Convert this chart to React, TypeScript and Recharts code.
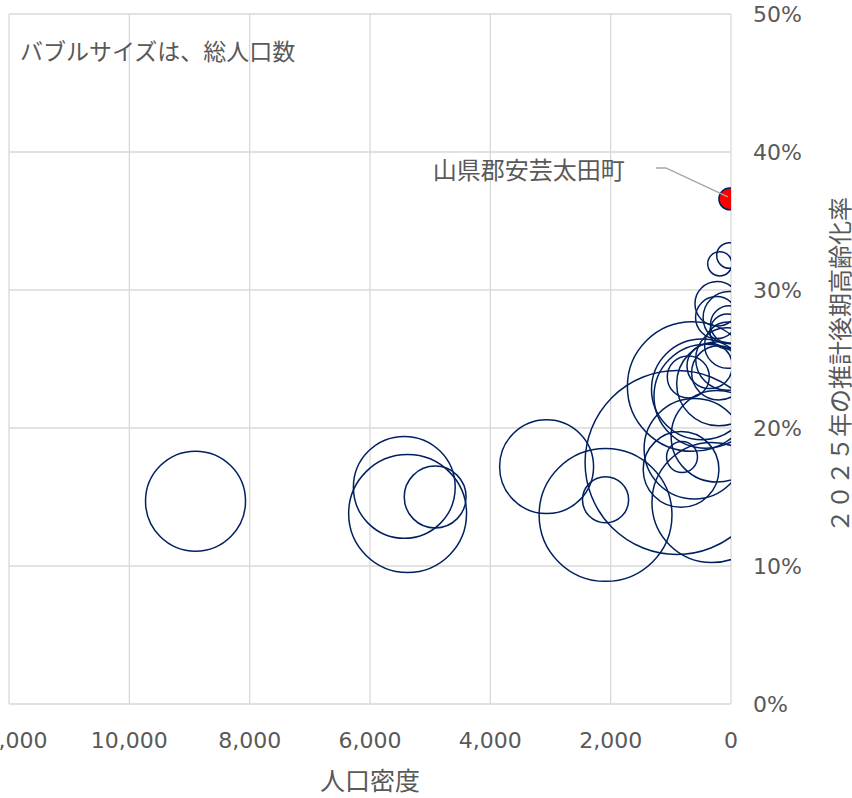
import { CartesianGrid, Scatter, ScatterChart, XAxis, YAxis, ZAxis } from "recharts";

// 広島県の市区町: 人口密度 (人/km²), 2025年推計後期高齢化率 (%), 総人口 (千人)
const names = [
  "中区", "東区", "南区", "西区", "安佐南区", "安佐北区", "安芸区", "佐伯区",
  "呉市", "竹原市", "三原市", "尾道市", "福山市", "府中市", "三次市", "庄原市",
  "大竹市", "東広島市", "廿日市市", "安芸高田市", "江田島市",
  "府中町", "海田町", "熊野町", "坂町", "北広島町", "大崎上島町", "世羅町", "神石高原町",
];
const density = [
  8900, 3065, 5430, 5375, 2085, 416, 830, 610,
  646, 229, 205, 484, 897, 204, 68, 30,
  354, 316, 234, 55, 240,
  4917, 2085, 710, 814, 29, 186, 59, 24,
];
const agedRate = [
  14.7, 17.2, 15.7, 13.8, 13.7, 22.3, 17.0, 18.5,
  23.0, 29.0, 23.2, 22.8, 17.5, 24.0, 25.0, 28.0,
  24.5, 14.6, 19.4, 26.0, 28.0,
  15.0, 14.8, 23.7, 17.9, 27.5, 31.9, 27.0, 32.5,
];
const population = [
  136, 120, 141, 189, 240, 147, 78, 137,
  228, 27, 96, 138, 460, 40, 53, 37,
  28, 196, 114, 29, 24,
  52, 29, 24, 13, 19, 8, 16.5, 9,
];

const highlightName = "山県郡安芸太田町";
const highlightDensity = 19;
const highlightRate = 36.6;
const highlightPopulation = 6.5;

const xTicks = [0, 2000, 4000, 6000, 8000, 10000, 12000];
const yTicks = [0, 10, 20, 30, 40, 50];

const NAVY = "#002060";
const TEXT = "#595959";
const GRID = "#d9d9d9";
const FONT = '"Noto Sans CJK JP", "Noto Sans", sans-serif';
const TICK_FONT = '"DejaVu Sans", "Noto Sans", sans-serif';

const bubbles = names.map((name, i) => ({
  name,
  x: density[i],
  y: agedRate[i],
  z: population[i],
}));

const highlight = [
  { name: highlightName, x: highlightDensity, y: highlightRate, z: highlightPopulation },
];

function HighlightDot(props: any) {
  const { cx, cy, width, payload } = props;
  const r = width / 2;
  return (
    <g>
      <circle cx={cx} cy={cy} r={r} fill="#ff0000" stroke={NAVY} strokeWidth={1.5} />
      <polyline
        points={`${cx - 74},${cy - 31} ${cx - 64},${cy - 31} ${cx - 2},${cy - 2}`}
        fill="none"
        stroke="#a6a6a6"
        strokeWidth={1.5}
      />
      <text
        x={cx - 105}
        y={cy - 30}
        textAnchor="end"
        dominantBaseline="central"
        fill={TEXT}
        fontSize={24}
        fontFamily={FONT}
      >
        {payload.name}
      </text>
    </g>
  );
}

export default function App() {
  return (
    <div
      style={{
        position: "absolute",
        left: 0,
        top: 0,
        width: 852,
        height: 798,
        background: "#fff",
        fontFamily: FONT,
      }}
    >
      <ScatterChart width={852} height={798} margin={{ top: 14, right: 0, bottom: 0, left: 9 }}>
        <CartesianGrid stroke={GRID} strokeWidth={1.3} />
        <XAxis
          type="number"
          dataKey="x"
          domain={[0, 12000]}
          ticks={xTicks}
          reversed
          allowDataOverflow
          interval={0}
          height={94}
          axisLine={false}
          tickLine={false}
          tickMargin={22}
          tick={{ fill: TEXT, fontSize: 22, fontFamily: TICK_FONT }}
          tickFormatter={(v: number) => v.toLocaleString("en-US")}
          label={{
            content: (p: any) => (
              <text
                x={p.viewBox.x + p.viewBox.width / 2}
                y={p.viewBox.y + p.viewBox.height - 8}
                textAnchor="middle"
                fill={TEXT}
                fontSize={25}
                fontFamily={FONT}
              >
                人口密度
              </text>
            ),
          }}
        />
        <YAxis
          type="number"
          dataKey="y"
          orientation="right"
          domain={[0, 50]}
          ticks={yTicks}
          allowDataOverflow
          interval={0}
          width={121}
          axisLine={false}
          tickLine={false}
          tickMargin={16}
          tick={{ fill: TEXT, fontSize: 22, fontFamily: TICK_FONT }}
          tickFormatter={(v: number) => `${v}%`}
          label={{
            content: (p: any) => {
              const lx = p.viewBox.x + p.viewBox.width - 14;
              const ly = p.viewBox.y + p.viewBox.height / 2 + 6;
              return (
                <text
                  x={lx}
                  y={ly}
                  transform={`rotate(-90 ${lx} ${ly})`}
                  textAnchor="middle"
                  dominantBaseline="central"
                  fill={TEXT}
                  fontSize={24}
                  fontFamily={FONT}
                >
                  ２０２５年の推計後期高齢化率
                </text>
              );
            },
          }}
        />
        <ZAxis type="number" dataKey="z" domain={[0, 500]} range={[0, 28875]} />
        <Scatter
          data={bubbles}
          fill="none"
          stroke={NAVY}
          strokeWidth={1.5}
          isAnimationActive={false}
        />
        <Scatter data={highlight} shape={HighlightDot} isAnimationActive={false} />
      </ScatterChart>
      <div
        style={{
          position: "absolute",
          left: 20,
          top: 35,
          fontSize: 23,
          color: TEXT,
          lineHeight: "30px",
          whiteSpace: "nowrap",
        }}
      >
        バブルサイズは、総人口数
      </div>
    </div>
  );
}
